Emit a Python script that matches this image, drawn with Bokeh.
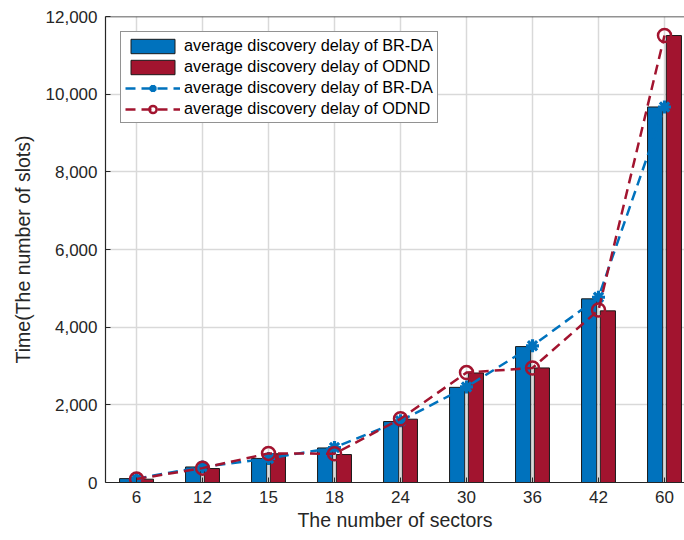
from bokeh.plotting import figure
from bokeh.models import (Range1d, FixedTicker, NumeralTickFormatter, Legend,
                          LegendItem, Span, ColumnDataSource)
from bokeh.embed import file_html
from bokeh.resources import INLINE

categories = ["6", "12", "15", "18", "24", "30", "36", "42", "60"]
brda_bar = [100, 400, 620, 890, 1570, 2450, 3500, 4730, 9670]
odnd_bar = [85, 360, 740, 720, 1630, 2820, 2950, 4420, 11510]
brda_line = [100, 400, 620, 900, 1590, 2460, 3520, 4770, 9670]
odnd_line = [90, 370, 750, 740, 1640, 2830, 2950, 4440, 11510]
y_ticks = [0, 2000, 4000, 6000, 8000, 10000, 12000]

BLUE = "#0072BD"
RED = "#A2142F"
FONT = "Liberation Sans"
TXT = "#262626"

xs = list(range(1, len(categories) + 1))
off = 0.142
bw = 0.23

src = ColumnDataSource(dict(
    x=xs,
    xb=[x - off for x in xs],
    xr=[x + off for x in xs],
    brda_bar=brda_bar, odnd_bar=odnd_bar,
    brda_line=brda_line, odnd_line=odnd_line,
))

p = figure(width=684, height=540, output_backend="svg", toolbar_location=None,
           x_range=Range1d(0.530, 9.303), y_range=Range1d(0, 12000),
           min_border_left=105, min_border_top=16, min_border_bottom=58,
           min_border_right=0)
p.outline_line_color = None
p.background_fill_color = "white"
p.border_fill_color = "white"

rb = p.vbar(x="xb", top="brda_bar", width=bw, source=src, fill_color=BLUE,
            line_color="#1a1a1a", line_width=1)
rr = p.vbar(x="xr", top="odnd_bar", width=bw, source=src, fill_color=RED,
            line_color="#1a1a1a", line_width=1)

lb = p.line("x", "brda_line", source=src, line_color=BLUE, line_width=2.5,
            line_dash="10 6")
sb = p.scatter("x", "brda_line", source=src, marker="asterisk", size=13,
               line_color=BLUE, line_width=3.2)
lr = p.line("x", "odnd_line", source=src, line_color=RED, line_width=2.5,
            line_dash="10 6")
sr = p.scatter("x", "odnd_line", source=src, marker="circle", size=13,
               fill_color=None, line_color=RED, line_width=2.5)

top = Span(location=12000, dimension="width", line_color=TXT, line_width=1.5)
p.add_layout(top)

p.xaxis.ticker = FixedTicker(ticks=xs)
p.xaxis.major_label_overrides = {x: c for x, c in zip(xs, categories)}
p.yaxis.ticker = FixedTicker(ticks=y_ticks)
p.yaxis.formatter = NumeralTickFormatter(format="0,0")

for ax in (p.xaxis, p.yaxis):
    ax.major_tick_in = 5
    ax.major_tick_out = 0
    ax.minor_tick_line_color = None
    ax.axis_line_color = TXT
    ax.major_tick_line_color = TXT
    ax.axis_line_width = 1.2
    ax.major_label_text_font = FONT
    ax.major_label_text_font_size = "17px"
    ax.major_label_text_color = TXT
    ax.axis_label_text_font = FONT
    ax.axis_label_text_font_size = "19.5px"
    ax.axis_label_text_font_style = "normal"
    ax.axis_label_text_color = TXT

p.xaxis.axis_label = "The number of sectors"
p.yaxis.axis_label = "Time(The number of slots)"
p.xaxis.major_label_standoff = 8
p.yaxis.major_label_standoff = 8
p.xaxis.axis_label_standoff = 3
p.yaxis.axis_label_standoff = 9

p.grid.grid_line_color = "#d9d9d9"
p.grid.grid_line_width = 1.5
p.xgrid.ticker = FixedTicker(ticks=xs)
p.ygrid.ticker = FixedTicker(ticks=y_ticks)

legend = Legend(items=[
    LegendItem(label="average discovery delay of BR-DA", renderers=[rb]),
    LegendItem(label="average discovery delay of ODND", renderers=[rr]),
    LegendItem(label="average discovery delay of BR-DA", renderers=[lb, sb]),
    LegendItem(label="average discovery delay of ODND", renderers=[lr, sr]),
], location="top_left")
legend.margin = 15
legend.padding = 4
legend.spacing = 2
legend.glyph_width = 55
legend.glyph_height = 18
legend.label_height = 18
legend.label_standoff = 4
legend.label_text_font = FONT
legend.label_text_font_size = "16.3px"
legend.label_text_color = "black"
legend.border_line_color = TXT
legend.border_line_width = 1
legend.background_fill_color = "white"
legend.background_fill_alpha = 1
p.add_layout(legend, "center")

open("out.html", "w").write(file_html(p, INLINE))
